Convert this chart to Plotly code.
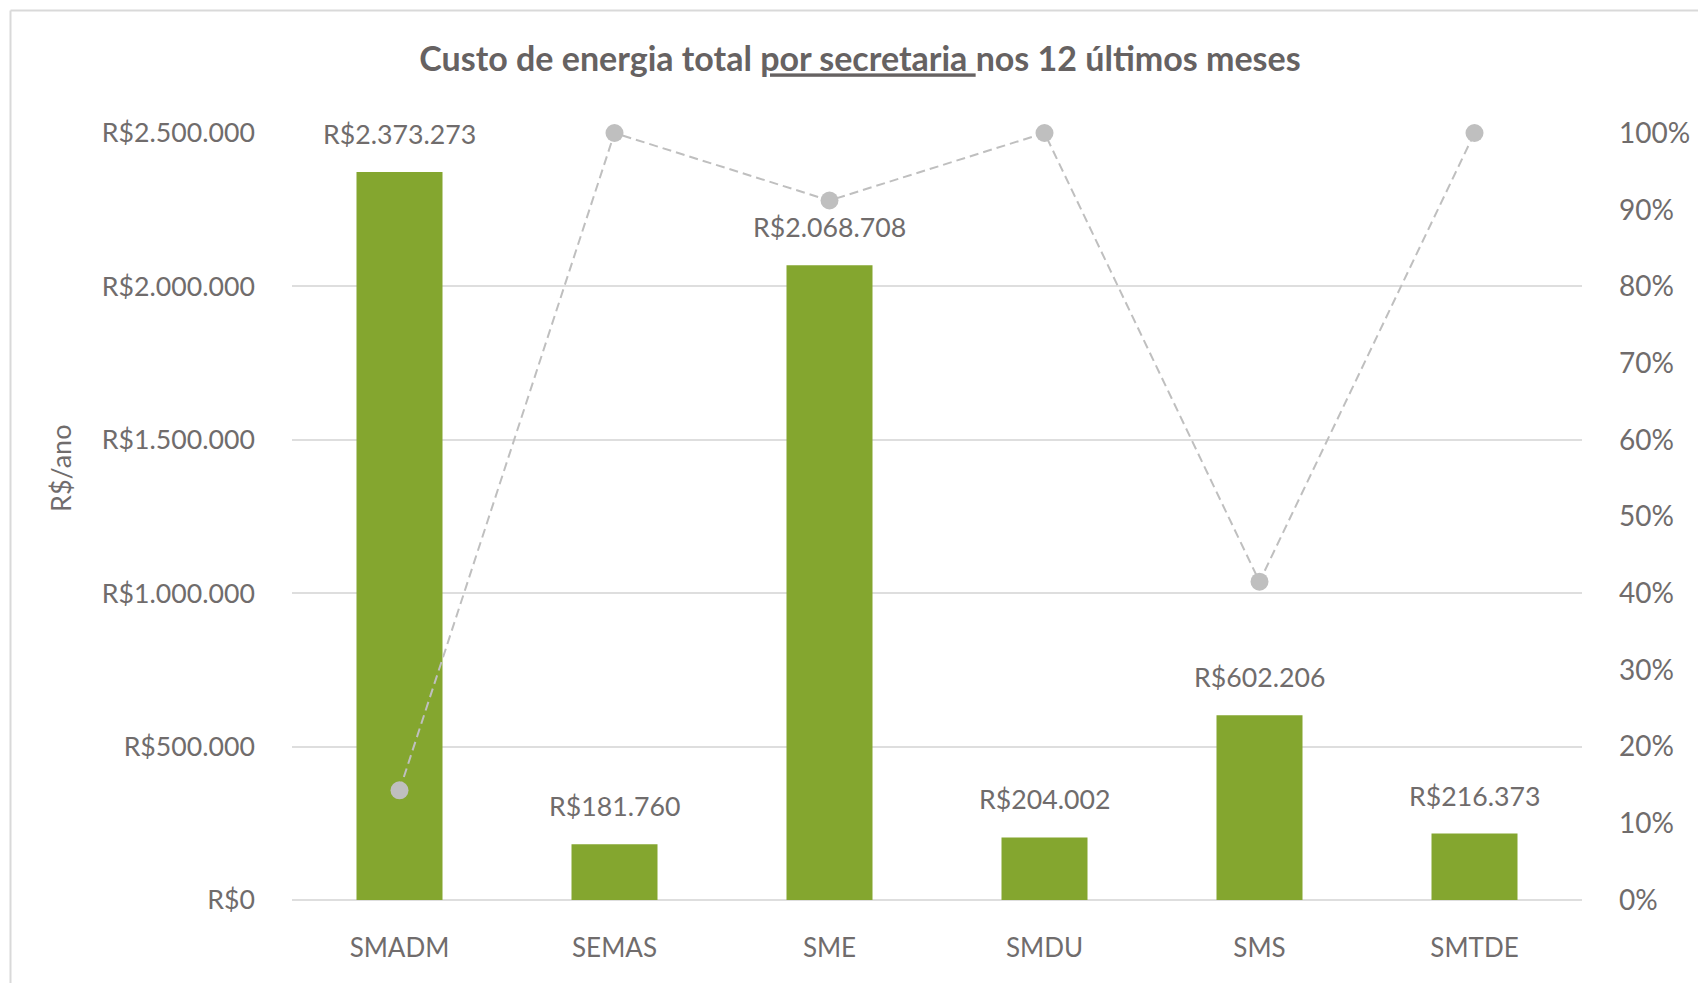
import plotly.graph_objects as go

categories = ["SMADM", "SEMAS", "SME", "SMDU", "SMS", "SMTDE"]
custo_anual = [2373273, 181760, 2068708, 204002, 602206, 216373]
percentual = [0.143, 1.0, 0.912, 1.0, 0.415, 1.0]

left_ticks = [0, 500000, 1000000, 1500000, 2000000, 2500000]
left_tick_labels = ["R$0", "R$500.000", "R$1.000.000", "R$1.500.000", "R$2.000.000", "R$2.500.000"]
right_ticks = [i / 10 for i in range(11)]
right_tick_labels = [f"{i * 10}%" for i in range(11)]

TXT = "#706C6C"
FONT = "Lato"
FS = 26.7

fig = go.Figure()
fig.add_trace(go.Bar(
    x=categories, y=custo_anual, marker=dict(color="#84A62F", line=dict(width=0)),
    yaxis="y", name="Custo", hoverinfo="x+y",
))
fig.add_trace(go.Scatter(
    x=categories, y=percentual, yaxis="y2", mode="lines+markers",
    line=dict(color="#BFBFBF", width=2, dash="9px,5px"),
    marker=dict(color="#BFBFBF", size=18),
    cliponaxis=False, name="%",
))

for c, v in zip(categories, custo_anual):
    fig.add_annotation(
        x=c, y=v, xref="x", yref="y", text="R$" + f"{v:,}".replace(",", "."),
        showarrow=False, yanchor="middle", yshift=38,
        font=dict(family=FONT, size=FS, color=TXT),
    )

plot_l, plot_w, plot_b, plot_h = 292, 1290, 900, 767

fig.add_annotation(
    x=(60 - plot_l) / plot_w, y=(plot_b - 468) / plot_h, xref="paper", yref="paper",
    text="R$/ano", textangle=-90, xanchor="center", yanchor="middle",
    showarrow=False, font=dict(family=FONT, size=27, color=TXT),
)

fig.update_layout(
    width=1698, height=983,
    margin=dict(l=292, r=116, t=133, b=83, autoexpand=False),
    paper_bgcolor="white", plot_bgcolor="white",
    showlegend=False,
    bargap=0.6,
    font=dict(family=FONT, size=FS, color=TXT),
    title=dict(
        text="<b>Custo de energia total <u>por secretaria </u>nos 12 últimos meses</b>",
        x=860 / 1698, xanchor="center", y=1 - 59.5 / 983, yanchor="middle",
        font=dict(family=FONT, size=34, color="#666262"),
    ),
    xaxis=dict(
        showgrid=False, showline=False, zeroline=False, ticks="",
        ticklabelstandoff=30, tickfont=dict(family=FONT, size=26, color=TXT),
    ),
    yaxis=dict(
        range=[0, 2500000], tickvals=left_ticks, ticktext=left_tick_labels,
        showgrid=True, gridcolor="#DEDEDE", gridwidth=1.5,
        zeroline=True, zerolinecolor="#DEDEDE", zerolinewidth=1.5,
        showline=False, ticks="", ticklabelstandoff=36,
        tickfont=dict(family=FONT, size=FS, color=TXT),
    ),
    yaxis2=dict(
        range=[0, 1], tickvals=right_ticks, ticktext=right_tick_labels,
        overlaying="y", side="right", showgrid=False, zeroline=False,
        showline=False, ticks="", ticklabelstandoff=36,
        tickfont=dict(family=FONT, size=28, color=TXT),
    ),
)

# Chart-area border (left and top edges visible)
bx = (10.5 - plot_l) / plot_w
by = (plot_b - 10.5) / plot_h
fig.add_shape(type="line", xref="paper", yref="paper", x0=bx, x1=bx, y0=by, y1=-0.2,
              line=dict(color="#D9D9D9", width=2))
fig.add_shape(type="line", xref="paper", yref="paper", x0=bx, x1=1.2, y0=by, y1=by,
              line=dict(color="#D9D9D9", width=2))

fig.write_html("out.html", config={"displayModeBar": False},
               post_script="document.body.style.margin='0';document.body.style.overflow='hidden';")
